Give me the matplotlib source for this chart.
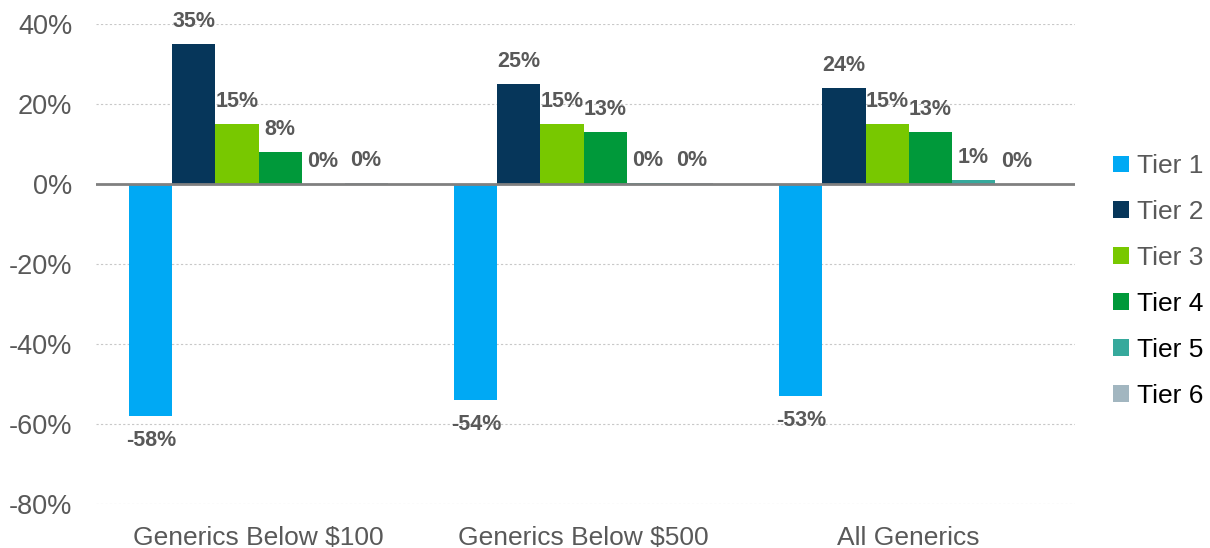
import numpy as np
import matplotlib
matplotlib.use("Agg")
import matplotlib.pyplot as plt
from matplotlib.patches import Patch

plt.rcParams["font.family"] = ["Liberation Sans", "DejaVu Sans"]

# ==============================
# Datos
# ==============================
categories = ["Generics Below $100", "Generics Below $500", "All Generics"]
tiers = ["Tier 1", "Tier 2", "Tier 3", "Tier 4", "Tier 5", "Tier 6"]
tier1 = [-58, -54, -53]
tier2 = [35, 25, 24]
tier3 = [15, 15, 15]
tier4 = [8, 13, 13]
tier5 = [0.0, 0.2, 1.0]
tier6 = [0.3, 0.2, 0.0]
labels_txt = [
    ["-58%", "-54%", "-53%"],
    ["35%", "25%", "24%"],
    ["15%", "15%", "15%"],
    ["8%", "13%", "13%"],
    ["0%", "0%", "1%"],
    ["0%", "0%", "0%"],
]
series = [tier1, tier2, tier3, tier4, tier5, tier6]
colors = ["#00A9F4", "#06365A", "#78C800", "#00993A", "#36A99C", "#A2B6C0"]
legend_text_colors = ["#595959", "#595959", "#595959", "#000000", "#000000", "#000000"]

# ==============================
# Figura
# ==============================
fig = plt.figure(figsize=(12.1, 5.48), dpi=100)
ax = fig.add_axes([96 / 1210, 1 - 504 / 548, (1075 - 96) / 1210, 480 / 548])

x = np.arange(len(categories))
w = 0.1325
for i, (vals, col) in enumerate(zip(series, colors)):
    pos = x + (i - 2.5) * w
    ax.bar(pos, vals, width=w, color=col, zorder=3)
    for px, v, t in zip(pos, vals, labels_txt[i]):
        off = 16 if v >= 0 else -18
        ax.annotate(t, (px, v), xytext=(0, off), textcoords="offset points",
                    ha="center", va="center", fontsize=15.5, fontweight="bold",
                    color="#595959", zorder=4)

ax.set_ylim(-80, 40)
ax.set_xlim(-0.5, 2.512)
ax.set_yticks(np.arange(-80, 41, 20))
ax.set_yticklabels([f"{v}%" for v in range(-80, 41, 20)])
ax.set_xticks(x)
ax.set_xticklabels(categories)
ax.tick_params(axis="y", length=0, labelsize=19.5, labelcolor="#595959", pad=17)
ax.tick_params(axis="x", length=0, labelsize=19, labelcolor="#595959", pad=16)

ax.grid(axis="y", linestyle=(0, (2, 2)), color="#C8C8C8", linewidth=0.8, zorder=0)
ax.axhline(0, color="#808080", linewidth=2, zorder=5)
for s in ax.spines.values():
    s.set_visible(False)

handles = [Patch(facecolor=c, edgecolor="none") for c in colors]
leg = fig.legend(handles, tiers, loc="center left", bbox_to_anchor=(1113 / 1210, 1 - 281 / 548),
                 frameon=False, fontsize=19, handlelength=0.6, handleheight=0.6,
                 handletextpad=0.3, labelspacing=0.83, borderaxespad=0, borderpad=0)
for t, c in zip(leg.get_texts(), legend_text_colors):
    t.set_color(c)

fig.savefig("out.png", dpi=100)
